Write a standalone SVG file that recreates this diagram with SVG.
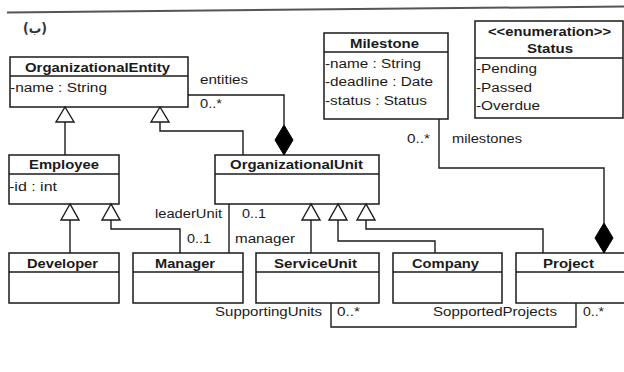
<svg xmlns="http://www.w3.org/2000/svg" width="624" height="372" viewBox="0 0 624 372">
<defs>
<style>
text{font-family:"Liberation Sans",Arial,"DejaVu Sans",sans-serif;font-size:12.5px;fill:#1a1a1a}
.t{font-weight:bold}
.box{fill:#fff;stroke:#1a1a1a;stroke-width:1.5}
.div{stroke:#1a1a1a;stroke-width:1.3}
.ln{fill:none;stroke:#1a1a1a;stroke-width:1.4}
.tri{fill:#fff;stroke:#1a1a1a;stroke-width:1.4}
.dia{fill:#000;stroke:#000;stroke-width:1}
</style>
</defs>
<rect width="624" height="372" fill="#fff"/>
<line x1="7" y1="12.5" x2="624" y2="6.5" stroke="#555" stroke-width="2"/>
<text x="23" y="33" textLength="24" lengthAdjust="spacingAndGlyphs" style="font-family:'DejaVu Sans','Noto Sans',sans-serif;font-size:14px;font-weight:bold;fill:#333">(ب)</text>

<g id="OrganizationalEntity">
<rect class="box" x="10" y="57" width="178" height="50"/>
<line class="div" x1="10" y1="76" x2="188" y2="76"/>
<text class="t" x="25" y="72" textLength="145" lengthAdjust="spacingAndGlyphs">OrganizationalEntity</text>
<text x="10" y="92" textLength="97" lengthAdjust="spacingAndGlyphs">-name : String</text>
</g>

<g id="Milestone">
<rect class="box" x="324" y="33" width="124" height="86"/>
<line class="div" x1="324" y1="52" x2="448" y2="52"/>
<text class="t" x="350" y="48" textLength="69" lengthAdjust="spacingAndGlyphs">Milestone</text>
<text x="325" y="68" textLength="96" lengthAdjust="spacingAndGlyphs">-name : String</text>
<text x="325" y="86" textLength="108" lengthAdjust="spacingAndGlyphs">-deadline : Date</text>
<text x="325" y="105" textLength="102" lengthAdjust="spacingAndGlyphs">-status : Status</text>
</g>

<g id="Status">
<rect class="box" x="475" y="21" width="148" height="97"/>
<line class="div" x1="475" y1="58" x2="623" y2="58"/>
<text class="t" x="488" y="36" textLength="123" lengthAdjust="spacingAndGlyphs">&lt;&lt;enumeration&gt;&gt;</text>
<text class="t" x="527" y="53" textLength="46" lengthAdjust="spacingAndGlyphs">Status</text>
<text x="476" y="73" textLength="61" lengthAdjust="spacingAndGlyphs">-Pending</text>
<text x="476" y="92" textLength="56" lengthAdjust="spacingAndGlyphs">-Passed</text>
<text x="476" y="110" textLength="64" lengthAdjust="spacingAndGlyphs">-Overdue</text>
</g>

<g id="Employee">
<rect class="box" x="9" y="155" width="110" height="49"/>
<line class="div" x1="9" y1="174" x2="119" y2="174"/>
<text class="t" x="29" y="169" textLength="70" lengthAdjust="spacingAndGlyphs">Employee</text>
<text x="9" y="191" textLength="48" lengthAdjust="spacingAndGlyphs">-id : int</text>
</g>

<g id="OrganizationalUnit">
<rect class="box" x="215" y="155" width="164" height="49"/>
<line class="div" x1="215" y1="174" x2="379" y2="174"/>
<text class="t" x="230" y="169" textLength="133" lengthAdjust="spacingAndGlyphs">OrganizationalUnit</text>
</g>

<g id="Developer">
<rect class="box" x="9" y="253" width="110" height="50"/>
<line class="div" x1="9" y1="272" x2="119" y2="272"/>
<text class="t" x="27" y="268" textLength="71" lengthAdjust="spacingAndGlyphs">Developer</text>
</g>

<g id="Manager">
<rect class="box" x="133" y="253" width="110" height="50"/>
<line class="div" x1="133" y1="272" x2="243" y2="272"/>
<text class="t" x="155" y="268" textLength="60" lengthAdjust="spacingAndGlyphs">Manager</text>
</g>

<g id="ServiceUnit">
<rect class="box" x="256" y="253" width="123" height="50"/>
<line class="div" x1="256" y1="272" x2="379" y2="272"/>
<text class="t" x="274" y="268" textLength="83" lengthAdjust="spacingAndGlyphs">ServiceUnit</text>
</g>

<g id="Company">
<rect class="box" x="393" y="253" width="109" height="50"/>
<line class="div" x1="393" y1="272" x2="502" y2="272"/>
<text class="t" x="412" y="268" textLength="67" lengthAdjust="spacingAndGlyphs">Company</text>
</g>

<g id="Project">
<rect class="box" x="516" y="253" width="120" height="50"/>
<line class="div" x1="516" y1="272" x2="636" y2="272"/>
<text class="t" x="543" y="268" textLength="51" lengthAdjust="spacingAndGlyphs">Project</text>
</g>

<g id="connectors">
<path class="ln" d="M65 155V122"/>
<polygon class="tri" points="65,107 56,122 74,122"/>
<path class="ln" d="M160 122V131H243V155"/>
<polygon class="tri" points="160,107 151,122 169,122"/>
<path class="ln" d="M188 95H284V125"/>
<polygon class="dia" points="284,125 293,140 284,155 275,140"/>
<path class="ln" d="M70 220V253"/>
<polygon class="tri" points="70,204 61,220 79,220"/>
<path class="ln" d="M111 220V229H180V253"/>
<polygon class="tri" points="111,204 102,220 120,220"/>
<path class="ln" d="M229 204V253"/>
<path class="ln" d="M311 220V253"/>
<polygon class="tri" points="311,204 302,220 320,220"/>
<path class="ln" d="M338 220V241H435V253"/>
<polygon class="tri" points="338,204 329,220 347,220"/>
<path class="ln" d="M366 220V229H543V253"/>
<polygon class="tri" points="366,204 357,220 375,220"/>
<path class="ln" d="M439 119V168H604V223"/>
<polygon class="dia" points="604,223 613,238 604,253 595,238"/>
<path class="ln" d="M331 303V327H576V303"/>
</g>

<g id="labels">
<text x="200" y="84" textLength="48" lengthAdjust="spacingAndGlyphs">entities</text>
<text x="200" y="108" textLength="22" lengthAdjust="spacingAndGlyphs">0..*</text>
<text x="407" y="143" textLength="23" lengthAdjust="spacingAndGlyphs">0..*</text>
<text x="452" y="143" textLength="70" lengthAdjust="spacingAndGlyphs">milestones</text>
<text x="155" y="218" textLength="67" lengthAdjust="spacingAndGlyphs">leaderUnit</text>
<text x="242" y="218" textLength="24" lengthAdjust="spacingAndGlyphs">0..1</text>
<text x="187" y="243" textLength="24" lengthAdjust="spacingAndGlyphs">0..1</text>
<text x="235" y="243" textLength="60" lengthAdjust="spacingAndGlyphs">manager</text>
<text x="215" y="316" textLength="107" lengthAdjust="spacingAndGlyphs">SupportingUnits</text>
<text x="337" y="316" textLength="23" lengthAdjust="spacingAndGlyphs">0..*</text>
<text x="433" y="316" textLength="124" lengthAdjust="spacingAndGlyphs">SopportedProjects</text>
<text x="583" y="316" textLength="21" lengthAdjust="spacingAndGlyphs">0..*</text>
</g>
</svg>
